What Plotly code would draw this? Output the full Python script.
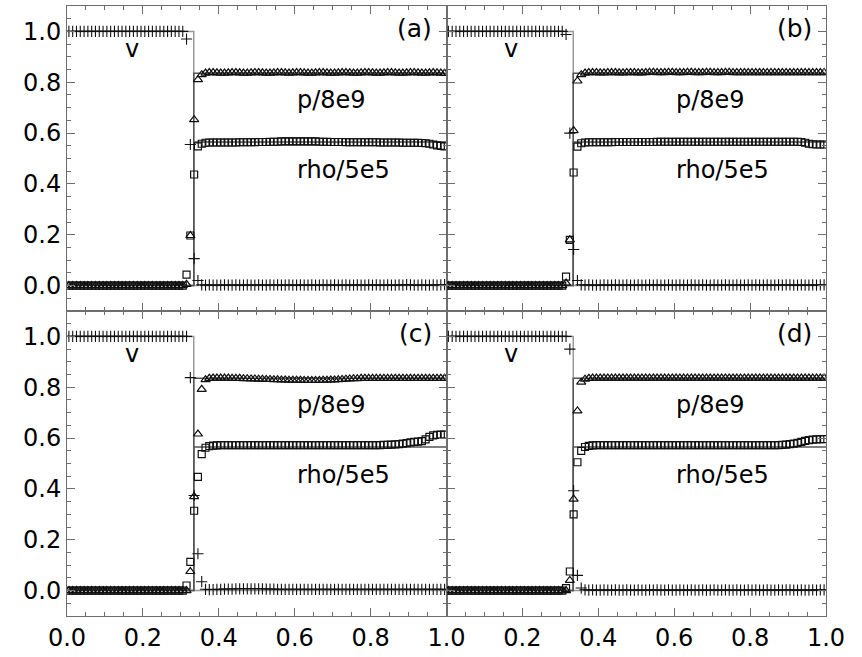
import plotly.graph_objects as go

# cell centres of the 100-cell grid
x_cells = [round((i + 0.5) / 100, 3) for i in range(100)]

# shock position and exact (analytic) post-shock levels
x_shock = 0.334
v_exact = [1.0, 1.0, 0.0, 0.0]
p_exact = [0.0, 0.0, 0.835, 0.835]
rho_exact = [0.0, 0.0, 0.565, 0.565]
x_exact = [0.0, x_shock, x_shock, 1.0]

ONES10 = [1.0] * 10
ZEROS10 = [0.0] * 10

# ---------------- panel (a)
v_a = ONES10 + ONES10 + ONES10 + [
    1.0, 0.97, 0.555, 0.106, 0.02, 0.003, 0.002, 0.003, 0.002, 0.002,
    0.002, 0.003, 0.002, 0.002, 0.003, 0.002, 0.002, 0.003, 0.002, 0.002,
    0.003, 0.002, 0.002, 0.003, 0.002, 0.003, 0.002, 0.002, 0.003, 0.002,
    0.002, 0.003, 0.002, 0.002, 0.003, 0.002, 0.002, 0.003, 0.002, 0.002,
    0.003, 0.002, 0.002, 0.003, 0.002, 0.002, 0.003, 0.002, 0.002, 0.003,
    0.002, 0.003, 0.002, 0.002, 0.003, 0.002, 0.002, 0.003, 0.002, 0.004,
    0.003, 0.002, 0.002, 0.003, 0.002, 0.002, 0.003, 0.002, 0.003, 0.004]
p_a = ZEROS10 + ZEROS10 + ZEROS10 + [
    0.0, 0.005, 0.197, 0.653, 0.81, 0.83, 0.836, 0.838, 0.838, 0.837,
    0.836, 0.836, 0.837, 0.838, 0.838, 0.837, 0.836, 0.836, 0.837, 0.838,
    0.838, 0.837, 0.836, 0.836, 0.837, 0.838, 0.838, 0.837, 0.836, 0.837,
    0.838, 0.838, 0.837, 0.836, 0.836, 0.837, 0.838, 0.838, 0.837, 0.836,
    0.836, 0.837, 0.838, 0.838, 0.837, 0.836, 0.836, 0.837, 0.838, 0.838,
    0.837, 0.836, 0.836, 0.837, 0.838, 0.838, 0.837, 0.836, 0.836, 0.837,
    0.838, 0.838, 0.837, 0.836, 0.836, 0.837, 0.838, 0.837, 0.836, 0.835]
rho_a = ZEROS10 + ZEROS10 + ZEROS10 + [
    0.0, 0.043, 0.197, 0.437, 0.548, 0.558, 0.562, 0.563, 0.563, 0.563,
    0.563, 0.563, 0.563, 0.563, 0.563, 0.564, 0.564, 0.564, 0.564, 0.564,
    0.565, 0.565, 0.565, 0.566, 0.566, 0.566, 0.567, 0.567, 0.567, 0.567,
    0.567, 0.567, 0.567, 0.567, 0.567, 0.567, 0.566, 0.566, 0.566, 0.565,
    0.565, 0.565, 0.565, 0.564, 0.564, 0.564, 0.564, 0.564, 0.564, 0.564,
    0.564, 0.564, 0.563, 0.563, 0.563, 0.563, 0.563, 0.563, 0.562, 0.562,
    0.562, 0.562, 0.562, 0.561, 0.560, 0.558, 0.555, 0.552, 0.550, 0.548]

# ---------------- panel (b)
v_b = ONES10 + ONES10 + ONES10 + [
    1.0, 0.988, 0.60, 0.142, 0.02, 0.003, 0.002, 0.003, 0.002, 0.002,
    0.002, 0.003, 0.002, 0.002, 0.003, 0.002, 0.002, 0.003, 0.002, 0.002,
    0.003, 0.002, 0.002, 0.003, 0.002, 0.003, 0.002, 0.002, 0.003, 0.002,
    0.002, 0.003, 0.002, 0.002, 0.003, 0.002, 0.002, 0.003, 0.002, 0.002,
    0.003, 0.002, 0.002, 0.003, 0.002, 0.002, 0.003, 0.002, 0.002, 0.003,
    0.002, 0.003, 0.002, 0.002, 0.003, 0.002, 0.002, 0.003, 0.002, 0.003,
    0.003, 0.002, 0.002, 0.003, 0.002, 0.002, 0.003, 0.002, 0.003, 0.003]
p_b = ZEROS10 + ZEROS10 + ZEROS10 + [
    0.0, 0.01, 0.18, 0.61, 0.805, 0.83, 0.836, 0.838, 0.838, 0.838,
    0.837, 0.837, 0.838, 0.838, 0.838, 0.837, 0.837, 0.838, 0.838, 0.838,
    0.837, 0.837, 0.838, 0.839, 0.839, 0.838, 0.838, 0.838, 0.839, 0.839,
    0.838, 0.838, 0.838, 0.839, 0.839, 0.838, 0.838, 0.838, 0.839, 0.839,
    0.838, 0.838, 0.838, 0.839, 0.839, 0.838, 0.838, 0.838, 0.838, 0.838,
    0.838, 0.838, 0.838, 0.838, 0.838, 0.838, 0.838, 0.838, 0.838, 0.838,
    0.838, 0.838, 0.838, 0.838, 0.838, 0.838, 0.838, 0.838, 0.838, 0.838]
rho_b = ZEROS10 + ZEROS10 + ZEROS10 + [
    0.0, 0.035, 0.18, 0.445, 0.547, 0.56, 0.563, 0.564, 0.564, 0.564,
    0.564, 0.564, 0.564, 0.564, 0.565, 0.565, 0.565, 0.565, 0.565, 0.565,
    0.565, 0.565, 0.565, 0.565, 0.565, 0.566, 0.566, 0.566, 0.566, 0.566,
    0.566, 0.566, 0.566, 0.566, 0.566, 0.566, 0.566, 0.566, 0.566, 0.566,
    0.566, 0.566, 0.566, 0.566, 0.566, 0.566, 0.566, 0.566, 0.566, 0.566,
    0.566, 0.566, 0.566, 0.566, 0.566, 0.566, 0.566, 0.566, 0.566, 0.566,
    0.566, 0.566, 0.566, 0.565, 0.562, 0.558, 0.556, 0.555, 0.555, 0.555]

# ---------------- panel (c)
v_c = ONES10 + ONES10 + ONES10 + [
    1.0, 1.0, 0.838, 0.374, 0.145, 0.035, 0.005, 0.004, 0.004, 0.005,
    0.005, 0.006, 0.006, 0.006, 0.007, 0.007, 0.007, 0.007, 0.007, 0.007,
    0.007, 0.007, 0.006, 0.006, 0.006, 0.005, 0.005, 0.005, 0.005, 0.005,
    0.005, 0.005, 0.005, 0.005, 0.005, 0.005, 0.005, 0.005, 0.005, 0.005,
    0.005, 0.005, 0.005, 0.005, 0.005, 0.005, 0.005, 0.005, 0.005, 0.005,
    0.005, 0.005, 0.005, 0.005, 0.005, 0.005, 0.005, 0.005, 0.005, 0.005,
    0.005, 0.005, 0.005, 0.005, 0.005, 0.005, 0.005, 0.005, 0.005, 0.005]
p_c = ZEROS10 + ZEROS10 + ZEROS10 + [
    0.0, 0.0, 0.075, 0.37, 0.616, 0.792, 0.83, 0.835, 0.836, 0.836,
    0.836, 0.836, 0.836, 0.835, 0.835, 0.835, 0.834, 0.834, 0.833, 0.833,
    0.832, 0.832, 0.831, 0.831, 0.830, 0.830, 0.829, 0.829, 0.828, 0.828,
    0.828, 0.828, 0.827, 0.827, 0.827, 0.827, 0.827, 0.828, 0.828, 0.829,
    0.829, 0.830, 0.831, 0.832, 0.833, 0.834, 0.834, 0.835, 0.835, 0.835,
    0.835, 0.835, 0.835, 0.835, 0.835, 0.835, 0.835, 0.835, 0.835, 0.835,
    0.835, 0.835, 0.835, 0.835, 0.835, 0.835, 0.835, 0.835, 0.835, 0.835]
rho_c = ZEROS10 + ZEROS10 + ZEROS10 + [
    0.0, 0.02, 0.113, 0.314, 0.447, 0.537, 0.562, 0.568, 0.570, 0.571,
    0.572, 0.572, 0.572, 0.572, 0.572, 0.572, 0.572, 0.572, 0.572, 0.572,
    0.572, 0.572, 0.572, 0.572, 0.572, 0.572, 0.572, 0.572, 0.572, 0.572,
    0.572, 0.572, 0.572, 0.572, 0.572, 0.572, 0.572, 0.572, 0.572, 0.572,
    0.572, 0.572, 0.572, 0.572, 0.572, 0.572, 0.572, 0.572, 0.572, 0.572,
    0.572, 0.572, 0.572, 0.573, 0.573, 0.574, 0.575, 0.576, 0.578, 0.580,
    0.583, 0.585, 0.586, 0.588, 0.595, 0.605, 0.611, 0.613, 0.614, 0.614]

# ---------------- panel (d)
v_d = ONES10 + ONES10 + ONES10 + [
    1.0, 1.0, 0.95, 0.393, 0.06, 0.01, 0.003, 0.002, 0.003, 0.002,
    0.002, 0.003, 0.002, 0.002, 0.003, 0.002, 0.002, 0.003, 0.002, 0.002,
    0.003, 0.002, 0.002, 0.003, 0.002, 0.003, 0.002, 0.002, 0.003, 0.002,
    0.002, 0.003, 0.002, 0.002, 0.003, 0.002, 0.002, 0.003, 0.002, 0.002,
    0.003, 0.002, 0.002, 0.003, 0.002, 0.002, 0.003, 0.002, 0.002, 0.003,
    0.002, 0.003, 0.002, 0.002, 0.003, 0.002, 0.002, 0.003, 0.002, 0.003,
    0.003, 0.002, 0.002, 0.003, 0.002, 0.002, 0.003, 0.002, 0.003, 0.003]
p_d = ZEROS10 + ZEROS10 + ZEROS10 + [
    0.0, 0.0, 0.04, 0.36, 0.707, 0.82, 0.832, 0.835, 0.836, 0.836,
    0.836, 0.836, 0.836, 0.836, 0.836, 0.836, 0.836, 0.836, 0.836, 0.836,
    0.836, 0.836, 0.836, 0.836, 0.836, 0.836, 0.836, 0.836, 0.836, 0.836,
    0.836, 0.836, 0.836, 0.836, 0.836, 0.836, 0.836, 0.836, 0.836, 0.836,
    0.836, 0.836, 0.836, 0.836, 0.836, 0.836, 0.836, 0.836, 0.836, 0.836,
    0.836, 0.836, 0.836, 0.836, 0.836, 0.836, 0.836, 0.836, 0.836, 0.836,
    0.836, 0.836, 0.836, 0.836, 0.836, 0.836, 0.836, 0.836, 0.836, 0.836]
rho_d = ZEROS10 + ZEROS10 + ZEROS10 + [
    0.0, 0.01, 0.075, 0.30, 0.505, 0.55, 0.565, 0.569, 0.571, 0.572,
    0.572, 0.572, 0.572, 0.572, 0.572, 0.572, 0.572, 0.572, 0.572, 0.572,
    0.572, 0.572, 0.572, 0.572, 0.572, 0.572, 0.572, 0.572, 0.572, 0.572,
    0.572, 0.572, 0.572, 0.572, 0.572, 0.572, 0.572, 0.572, 0.572, 0.572,
    0.572, 0.572, 0.572, 0.572, 0.572, 0.572, 0.572, 0.572, 0.572, 0.572,
    0.572, 0.572, 0.572, 0.572, 0.572, 0.572, 0.572, 0.572, 0.573, 0.574,
    0.576, 0.578, 0.581, 0.585, 0.589, 0.592, 0.594, 0.595, 0.596, 0.596]

panels = [
    ("(a)", v_a, p_a, rho_a),
    ("(b)", v_b, p_b, rho_b),
    ("(c)", v_c, p_c, rho_c),
    ("(d)", v_d, p_d, rho_d),
]

tick_vals = [0.0, 0.2, 0.4, 0.6, 0.8, 1.0]
tick_text = ["0.0", "0.2", "0.4", "0.6", "0.8", "1.0"]
tick_text_right = ["", "0.2", "0.4", "0.6", "0.8", "1.0"]

FONT = "DejaVu Sans, Liberation Sans, Arial, sans-serif"
FS = 24
AXC = "#6e6e6e"
MK = "#111111"

fig = go.Figure()
annotations = []
for k, (lab, v, p, rho) in enumerate(panels):
    n = k + 1
    xa = "x" if n == 1 else f"x{n}"
    ya = "y" if n == 1 else f"y{n}"
    # exact solution lines
    fig.add_trace(go.Scatter(x=x_exact, y=v_exact, mode="lines",
                             line=dict(color="#9a9a9a", width=1.5),
                             xaxis=xa, yaxis=ya, showlegend=False, hoverinfo="skip"))
    fig.add_trace(go.Scatter(x=x_exact, y=p_exact, mode="lines",
                             line=dict(color="#555555", width=1.5),
                             xaxis=xa, yaxis=ya, showlegend=False, hoverinfo="skip"))
    fig.add_trace(go.Scatter(x=x_exact, y=rho_exact, mode="lines",
                             line=dict(color="#555555", width=1.5),
                             xaxis=xa, yaxis=ya, showlegend=False, hoverinfo="skip"))
    # numerical solution markers
    fig.add_trace(go.Scatter(x=x_cells, y=v, mode="markers",
                             marker=dict(symbol="cross-thin-open", size=8, color=MK,
                                         line=dict(color=MK, width=1.1)),
                             xaxis=xa, yaxis=ya, showlegend=False))
    fig.add_trace(go.Scatter(x=x_cells, y=p, mode="markers",
                             marker=dict(symbol="triangle-up-open", size=8,
                                         color=MK, line=dict(color=MK, width=1.2)),
                             xaxis=xa, yaxis=ya, showlegend=False))
    fig.add_trace(go.Scatter(x=x_cells, y=rho, mode="markers",
                             marker=dict(symbol="square-open", size=7,
                                         color=MK, line=dict(color=MK, width=1.2)),
                             xaxis=xa, yaxis=ya, showlegend=False))
    tfont = dict(family=FONT, size=FS, color="black")
    annotations += [
        dict(x=0.17, y=0.93, xref=xa, yref=ya, text="v", showarrow=False, font=tfont),
        dict(x=0.60, y=0.73, xref=xa, yref=ya, text="p/8e9", showarrow=False,
             xanchor="left", font=tfont),
        dict(x=0.60, y=0.455, xref=xa, yref=ya, text="rho/5e5", showarrow=False,
             xanchor="left", font=tfont),
        dict(x=0.968, y=1.01, xref=xa, yref=ya, text=lab, showarrow=False,
             xanchor="right", font=dict(family=FONT, size=25, color="black")),
    ]

common_axis = dict(
    showline=True, linecolor=AXC, linewidth=1, mirror="allticks",
    ticks="inside", ticklen=8, tickwidth=1, tickcolor=AXC,
    showgrid=False, zeroline=False,
    tickfont=dict(family=FONT, size=FS, color="black"),
    minor=dict(ticks="inside", ticklen=4, tickwidth=1, tickcolor=AXC,
               dtick=0.05, showgrid=False),
    tickmode="array", tickvals=tick_vals,
)

layout = dict(
    width=862, height=657,
    margin=dict(l=67, r=36, t=5, b=40),
    plot_bgcolor="white", paper_bgcolor="white",
    annotations=annotations,
)
xdom = [[0, 0.5], [0.5, 1], [0, 0.5], [0.5, 1]]
ydom = [[0.5, 1], [0.5, 1], [0, 0.5], [0, 0.5]]
for k in range(4):
    n = k + 1
    xk = "xaxis" if n == 1 else f"xaxis{n}"
    yk = "yaxis" if n == 1 else f"yaxis{n}"
    xa = dict(common_axis, domain=xdom[k], range=[0, 1],
              anchor="y" if n == 1 else f"y{n}",
              ticktext=tick_text_right if n == 4 else tick_text,
              showticklabels=(n >= 3))
    ya = dict(common_axis, domain=ydom[k], range=[-0.1, 1.1],
              anchor="x" if n == 1 else f"x{n}",
              ticktext=tick_text, showticklabels=(n in (1, 3)))
    layout[xk] = xa
    layout[yk] = ya

fig.update_layout(**layout)
fig.write_html("out.html")
